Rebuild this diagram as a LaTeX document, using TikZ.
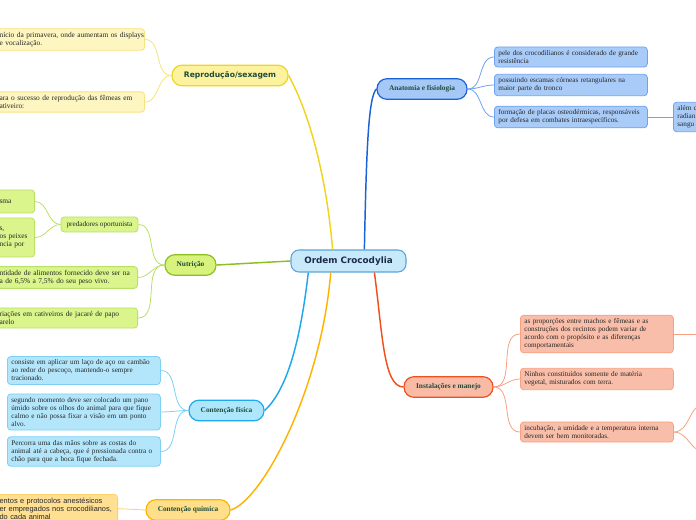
\documentclass[tikz,border=0pt]{standalone}
\usepackage{fontspec}
\setmainfont{Liberation Serif}
\newfontfamily\mapsans{DejaVu Sans}
\newfontfamily\drugsans{Liberation Sans}

\definecolor{hubfill}{HTML}{C8E9FA}
\definecolor{hubline}{HTML}{5AA3DC}
\definecolor{hubtext}{HTML}{1B2A4A}
\definecolor{topictext}{HTML}{1F4B3A}
\definecolor{leaftext}{HTML}{262626}
\definecolor{repline}{HTML}{F0D41E}
\definecolor{repfill}{HTML}{FDF29E}
\definecolor{repleaf}{HTML}{FDF6C0}
\definecolor{repedge}{HTML}{F6E27E}
\definecolor{analine}{HTML}{1A62D6}
\definecolor{anafill}{HTML}{A6C8F7}
\definecolor{analeaf}{HTML}{A9CBF8}
\definecolor{anaedge}{HTML}{6FA2F0}
\definecolor{nutline}{HTML}{8CC020}
\definecolor{nutfill}{HTML}{D7F27D}
\definecolor{nutleaf}{HTML}{DAF58C}
\definecolor{nutedge}{HTML}{BBE066}
\definecolor{fisline}{HTML}{1EA8EE}
\definecolor{fisfill}{HTML}{AEE6FB}
\definecolor{fisleaf}{HTML}{B3E6FB}
\definecolor{fisedge}{HTML}{7ED0F5}
\definecolor{quiline}{HTML}{FFB300}
\definecolor{quifill}{HTML}{FFDF8A}
\definecolor{quileaf}{HTML}{FFE093}
\definecolor{quiedge}{HTML}{FFCF6E}
\definecolor{insline}{HTML}{F0501C}
\definecolor{insfill}{HTML}{F9BBA6}
\definecolor{insleaf}{HTML}{F9BEA9}
\definecolor{insedge}{HTML}{F7A083}

\newcommand\leaffont{\fontsize{5.4}{6}\selectfont\hyphenpenalty=10000\exhyphenpenalty=10000}
\newcommand\cutfont{\fontsize{5.55}{6}\selectfont}
\newcommand\topicfont{\fontsize{5.5}{6}\selectfont\bfseries}

\begin{document}
\begin{tikzpicture}[x=0.75pt,y=0.75pt]
\tikzstyle{every node}+=[inner sep=0pt]
\tikzstyle{hub}=[draw=hubline,fill=hubfill,line width=0.8pt,rounded corners=6pt,text=hubtext,minimum width=86.25pt,minimum height=16.5pt,font=\fontsize{6.6}{7}\selectfont\mapsans\bfseries]
\tikzstyle{topic}=[line width=0.9pt,rounded corners=7.5pt,text=topictext,minimum height=15.5pt,font=\topicfont]
\tikzstyle{leaf}=[line width=0.6pt,rounded corners=2.5pt,text=leaftext,align=left,inner xsep=3pt,inner ysep=2.6pt,font=\leaffont]
\tikzstyle{wide}=[text width=108.75pt]
\tikzstyle{cut}=[anchor=east,font=\cutfont]
\tikzstyle{branch}=[line width=1.1pt]
\tikzstyle{twig}=[line width=0.6pt]
\useasboundingbox (0,0) rectangle (696,-520);

\node [hub] (ordem) at (348.5,-261) {Ordem Crocodylia};

\node [topic,draw=repline,fill=repfill,minimum width=87pt,font=\fontsize{5.7}{6.5}\selectfont\mapsans\bfseries] (repro) at (230,-75.5) {Reprodução/sexagem};
\node [leaf,cut,draw=repedge,fill=repleaf,text width=105.75pt] (rep1) at (145,-39.5) {\mbox{nício da primavera, onde aumentam os displays}\\e vocalização.};
\node [leaf,cut,draw=repedge,fill=repleaf,text width=105.75pt] (rep2) at (145,-102) {\mbox{ara o sucesso de reprodução das fêmeas em}\\ativeiro:};

\node [topic,draw=analine,fill=anafill,minimum width=67.5pt] (anat) at (422,-89) {Anatomia e fisiologia};
\node [leaf,wide,draw=anaedge,fill=analeaf,anchor=west] (ana1) at (494,-57) {pele dos crocodilianos é considerado de grande\\resistência};
\node [leaf,wide,draw=anaedge,fill=analeaf,anchor=west] (ana2) at (494,-85) {possuindo escamas córneas retangulares na\\maior parte do tronco};
\node [leaf,wide,draw=anaedge,fill=analeaf,anchor=west] (ana3) at (494,-117) {formação de placas osteodérmicas, responsáveis\\por defesa em combates intraespecíficos.};
\node [leaf,wide,draw=anaedge,fill=analeaf,anchor=west] (ana4) at (673,-117) {além d\\radian\\sangu};

\node [topic,draw=nutline,fill=nutfill,minimum width=38.25pt] (nutri) at (190.5,-265) {Nutrição};
\node [leaf,draw=nutedge,fill=nutleaf,minimum width=57.75pt,minimum height=11.25pt,align=center] (preda) at (99.5,-224.5) {predadores oportunista};
\node [leaf,cut,draw=nutedge,fill=nutleaf,minimum height=17.25pt,text width=23.25pt] (nut1) at (35,-201.5) {sma\\ };
\node [leaf,cut,draw=nutedge,fill=nutleaf,minimum height=29.25pt,text width=23.25pt] (nut2) at (35,-237.5) {s,\\\mbox{os peixes}\\\mbox{ncia por}\\ };
\node [leaf,cut,draw=nutedge,fill=nutleaf,text width=100.5pt] (nut3) at (138,-277.5) {\mbox{ntidade de alimentos fornecido deve ser na}\\\mbox{a de 6,5\% a 7,5\% do seu peso vivo.}};
\node [leaf,cut,draw=nutedge,fill=nutleaf,text width=100.5pt] (nut4) at (138,-318) {\mbox{riações em cativeiros de jacaré de papo}\\arelo};

\node [topic,draw=fisline,fill=fisfill,minimum width=56.25pt] (fisica) at (226.5,-410.5) {Contenção física};
\node [leaf,wide,draw=fisedge,fill=fisleaf,anchor=west] (fis1) at (7,-370.5) {consiste em aplicar um laço de aço ou cambão\\ao redor do pescoço, mantendo-o sempre\\tracionado.};
\node [leaf,wide,draw=fisedge,fill=fisleaf,anchor=west] (fis2) at (7,-412) {segundo momento deve ser colocado um pano\\úmido sobre os olhos do animal para que fique\\calmo e não possa fixar a visão em um ponto\\alvo.};
\node [leaf,wide,draw=fisedge,fill=fisleaf,anchor=west] (fis3) at (7,-451.5) {Percorra uma das mãos sobre as costas do\\animal até a cabeça, que é pressionada contra o\\chão para que a boca fique fechada.};

\node [topic,draw=quiline,fill=quifill,minimum width=63pt] (quimica) at (188,-510) {Contenção química};
\node [leaf,cut,draw=quiedge,fill=quileaf,anchor=north east,text width=85.5pt,font=\cutfont\drugsans] (qui1) at (118,-494) {\mbox{entos e protocolos anestésicos}\\\mbox{er empregados nos crocodilianos,}\\do cada animal};

\node [topic,draw=insline,fill=insfill,minimum width=66.75pt] (instal) at (448.5,-387) {Instalações e manejo};
\node [leaf,wide,draw=insedge,fill=insleaf,anchor=west] (ins1) at (520,-334) {as proporções entre machos e fêmeas e as\\construções dos recintos podem variar de\\acordo com o propósito e as diferenças\\comportamentais};
\node [leaf,wide,draw=insedge,fill=insleaf,anchor=west] (ins2) at (520,-379) {Ninhos constituídos somente de matéria\\vegetal, misturados com terra.};
\node [leaf,wide,draw=insedge,fill=insleaf,anchor=west] (ins3) at (520,-432) {incubação, a umidade e a temperatura interna\\devem ser bem monitoradas.};
\coordinate (ins1out) at (705,-334);
\coordinate (ins3up) at (705,-404);
\coordinate (ins3down) at (705,-452);

\draw [branch,repline] (ordem.144) .. controls +(-6,70) and +(22,-40) .. (repro.east);
\draw [branch,analine] (ordem.36) .. controls +(2,100) and +(-8,-8) .. (anat.west);
\draw [branch,nutline] (ordem.west) to[out=183,in=3] (nutri.east);
\draw [branch,fisline] (ordem.196) .. controls +(-8,-70) and +(22,20) .. (fisica.east);
\draw [branch,quiline] (ordem.213) .. controls +(-10,-120) and +(30,8) .. (quimica.east);
\draw [branch,insline] (ordem.336) .. controls +(8,-60) and +(-20,0) .. (instal.west);

\draw [twig,repedge] (repro.west) to[out=180,in=0] (rep1.east);
\draw [twig,repedge] (repro.west) to[out=180,in=0] (rep2.east);
\draw [twig,anaedge] (anat.east) to[out=0,in=180] (ana1.west);
\draw [twig,anaedge] (anat.east) to[out=0,in=180] (ana2.west);
\draw [twig,anaedge] (anat.east) to[out=0,in=180] (ana3.west);
\draw [twig,anaedge] (ana3.east) -- (ana4.west);
\draw [twig,nutedge] (nutri.west) to[out=180,in=0] (preda.east);
\draw [twig,nutedge] (nutri.west) to[out=180,in=0] (nut3.east);
\draw [twig,nutedge] (nutri.west) to[out=180,in=0] (nut4.east);
\draw [twig,nutedge] (preda.west) to[out=180,in=0] (nut1.east);
\draw [twig,nutedge] (preda.west) to[out=180,in=0] (nut2.east);
\draw [twig,fisedge] (fisica.west) to[out=180,in=0] (fis1.east);
\draw [twig,fisedge] (fisica.west) to[out=180,in=0] (fis2.east);
\draw [twig,fisedge] (fisica.west) to[out=180,in=0] (fis3.east);
\draw [twig,quiedge] (quimica.west) -- (qui1.east);
\draw [twig,insedge] (instal.east) to[out=0,in=180] (ins1.west);
\draw [twig,insedge] (instal.east) to[out=0,in=180] (ins2.west);
\draw [twig,insedge] (instal.east) to[out=0,in=180] (ins3.west);
\draw [twig,insedge] (ins1.east) -- (ins1out);
\draw [twig,insedge] (ins3.east) to[out=0,in=180] (ins3up);
\draw [twig,insedge] (ins3.east) to[out=0,in=180] (ins3down);
\end{tikzpicture}
\end{document}
